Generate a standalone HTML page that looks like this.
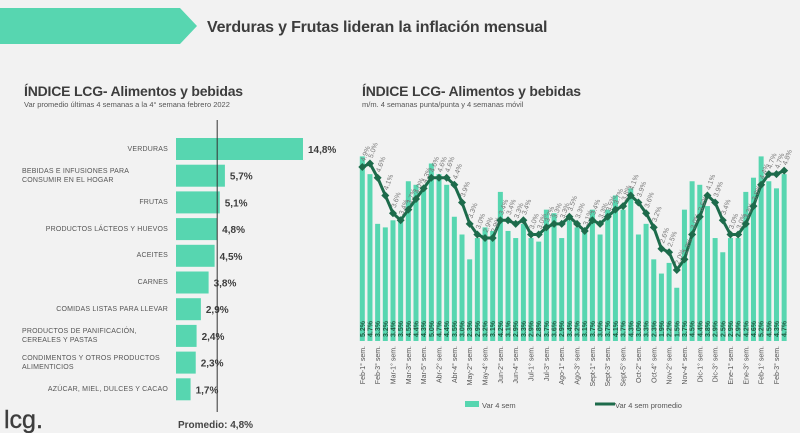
<!DOCTYPE html>
<html><head><meta charset="utf-8">
<style>
body{margin:0;width:800px;height:433px;background:#f2f2f2;font-family:"Liberation Sans",sans-serif;overflow:hidden;position:relative}
.abs{position:absolute}
.cat{position:absolute;right:632px;text-align:right;font-size:7px;color:#555;line-height:9px;letter-spacing:0.2px}
.cat span{display:inline-block;text-align:left}
</style></head><body>
<svg class="abs" style="left:0;top:0" width="800" height="433">
<polygon points="0,8 180,8 197,26 180,44 0,44" fill="#57d6b0"/>
<text x="207" y="32" font-size="16" font-weight="bold" letter-spacing="-0.2" fill="#3d3d3d">Verduras y Frutas lideran la inflación mensual</text>
<text x="24" y="96" font-size="14" font-weight="bold" letter-spacing="-0.2" fill="#3d3d3d">ÍNDICE LCG- Alimentos y bebidas</text>
<text x="24" y="107" font-size="7.5" fill="#555">Var promedio últimas 4 semanas a la 4° semana febrero 2022</text>
<text x="362" y="96" font-size="14" font-weight="bold" letter-spacing="-0.2" fill="#3d3d3d">ÍNDICE LCG- Alimentos y bebidas</text>
<text x="362" y="107" font-size="7.5" fill="#555">m/m. 4 semanas punta/punta y 4 semanas móvil</text>
<g id="left"></g>
<g id="right"></g>
<text x="4" y="428" font-size="25" fill="#3d3d3d" stroke="#3d3d3d" stroke-width="0.4">lcg.</text>
<text x="178" y="428" font-size="10" font-weight="bold" fill="#444">Promedio: 4,8%</text>
<rect x="465" y="401" width="14" height="6" fill="#57d6b0"/>
<text x="482" y="408" font-size="7.5" fill="#555">Var 4 sem</text>
<line x1="595" y1="404" x2="615" y2="404" stroke="#1d6b4b" stroke-width="3"/>
<text x="615" y="408" font-size="7.5" fill="#555">Var 4 sem promedio</text>
</svg>
<div id="cats"></div>
<script>
const cats=["VERDURAS","BEBIDAS E INFUSIONES PARA CONSUMIR EN EL HOGAR","FRUTAS","PRODUCTOS LÁCTEOS Y HUEVOS","ACEITES","CARNES","COMIDAS LISTAS PARA LLEVAR","PRODUCTOS DE PANIFICACIÓN, CEREALES Y PASTAS","CONDIMENTOS Y OTROS PRODUCTOS ALIMENTICIOS","AZÚCAR, MIEL, DULCES Y CACAO"];
const catVals=[14.8,5.7,5.1,4.8,4.5,3.8,2.9,2.4,2.3,1.7];
const avgVal=4.8;
const weekLabels=["Feb-1° sem.","Feb-3° sem.","Mar-1° sem.","Mar-3° sem.","Mar-5° sem.","Abr-2° sem.","Abr-4° sem.","May-2° sem.","May-4° sem.","Jun-2° sem.","Jun-4° sem.","Jul-1° sem.","Jul-3° sem.","Ago-1° sem.","Ago-3° sem.","Sept-1° sem.","Sept-3° sem.","Sept-5° sem.","Oct-2° sem.","Oct-4° sem.","Nov-2° sem.","Nov-4° sem.","Dic-1° sem.","Dic-3° sem.","Ene-1° sem.","Ene-3° sem.","Feb-1° sem.","Feb-3° sem."];
const barVals=[5.2,4.7,3.3,3.2,3.4,3.5,4.5,4.4,4.3,5.0,4.7,4.4,3.5,3.0,2.3,2.9,3.2,3.1,4.2,3.1,2.9,3.3,2.9,2.8,3.7,3.6,2.9,3.4,3.2,3.1,3.7,3.0,3.7,4.1,3.7,4.3,3.0,3.3,2.3,1.9,2.2,1.5,3.7,4.5,4.4,3.8,2.9,2.5,2.9,2.9,4.2,4.6,5.2,4.5,4.3,4.7];
const lineVals=[4.9,5.0,4.6,4.1,3.6,3.4,3.7,4.0,4.3,4.6,4.6,4.6,4.4,3.9,3.3,3.0,2.9,2.9,3.4,3.4,3.3,3.4,3.0,3.0,3.2,3.3,3.3,3.5,3.3,3.1,3.4,3.3,3.5,3.7,3.8,4.1,3.9,3.6,3.2,2.6,2.5,2.0,2.3,3.0,3.5,4.1,3.9,3.4,3.0,3.0,3.3,3.8,4.4,4.7,4.7,4.8];
const NS="http://www.w3.org/2000/svg";
function mk(tag,attrs,parent){const e=document.createElementNS(NS,tag);for(const k in attrs)e.setAttribute(k,attrs[k]);parent.appendChild(e);return e;}
const fmt=v=>v.toFixed(1).replace('.',',')+'%';
const fmtDot=v=>v.toFixed(1)+'%';
const L=document.getElementById('left');
const lx=v=>176+v*8.58;
const ly=i=>149+i*26.7;
const catDiv=document.getElementById('cats');
catVals.forEach((v,i)=>{
  const r=mk('rect',{x:176,y:ly(i)-11,width:lx(v)-176,height:22,fill:'#57d6b0'},L);
  
  
  const t=mk('text',{x:lx(v)+5,y:ly(i)+4,'font-size':10,'font-weight':'bold',fill:'#3d3d3d'},L);
  t.textContent=fmt(v);
  
  
  const d=document.createElement('div');d.className='cat';
  const lines=cats[i].length>30?2:1;
  d.style.top=(ly(i)-(lines===2?9:4.5))+'px';
  const s=document.createElement('span');s.textContent=cats[i];
  if(lines===2)s.style.width='146px';
  d.appendChild(s);catDiv.appendChild(d);
  
  
});
const av=mk('line',{x1:lx(avgVal),x2:lx(avgVal),y1:120,y2:412,stroke:'#333','stroke-width':1},L);


const R=document.getElementById('right');
const bx=i=>362.3+i*7.67;
const by=v=>341-v*35.5;
barVals.forEach((v,i)=>{
  const r=mk('rect',{x:bx(i)-2.5,y:by(v),width:5,height:341-by(v),fill:'#57d6b0'},R);
  
  
  const t=mk('text',{x:0,y:0,'font-size':7,'font-weight':'bold',fill:'#1d5a40',transform:`translate(${bx(i)+2.5},${337}) rotate(-90)`},R);
  t.textContent=fmtDot(v);
  
  
});
const pts=lineVals.map((v,i)=>bx(i)+','+by(v)).join(' ');
const pl=mk('polyline',{points:pts,fill:'none',stroke:'#1d6b4b','stroke-width':3},R);


lineVals.forEach((v,i)=>{
  const x=bx(i),y=by(v);
  const m=mk('polygon',{points:`${x},${y-4} ${x+4},${y} ${x},${y+4} ${x-4},${y}`,fill:'#1d6b4b'},R);
  
  
  const t=mk('text',{x:0,y:0,'font-size':7,fill:'#777',transform:`translate(${x+2.5},${y-5}) rotate(-70)`},R);
  t.textContent=fmtDot(v);
  
  
});
weekLabels.forEach((s,j)=>{
  const t=mk('text',{x:0,y:0,'font-size':7,fill:'#555','text-anchor':'end',transform:`translate(${bx(j*2)+2.5},${346}) rotate(-90)`},R);
  t.textContent=s;
  
  
});
</script>
</body></html>
